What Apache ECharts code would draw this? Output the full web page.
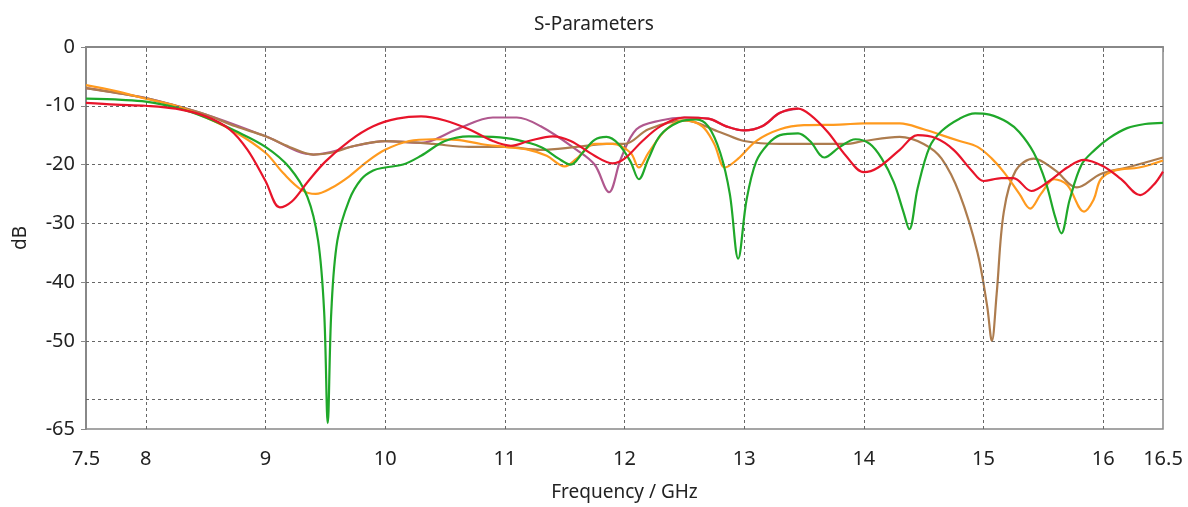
<!DOCTYPE html>
<html>
<head>
<meta charset="utf-8">
<script src="https://cdn.jsdelivr.net/npm/echarts@6/dist/echarts.min.js"></script>
<style>
html,body{margin:0;padding:0;background:#fff;}
#chart{width:1188px;height:507px;}
</style>
</head>
<body>
<div id="chart"></div>
<script>
// ---- data ----
const xTickLabels = [7.5, 8, 9, 10, 11, 12, 13, 14, 15, 16, 16.5];
const yTickLabels = [0, -10, -20, -30, -40, -50, -65];
const xGridValues = [8, 9, 10, 11, 12, 13, 14, 15, 16];
const yGridValues = [-10, -20, -30, -40, -50, -60];

const greenF  = [7.5,7.8,8.0,8.25,8.5,8.75,9.0,9.2,9.35,9.44,9.49,9.52,9.55,9.6,9.7,9.8,9.9,10.0,10.15,10.3,10.5,10.7,10.9,11.1,11.3,11.45,11.55,11.65,11.75,11.85,11.95,12.05,12.12,12.2,12.3,12.45,12.6,12.7,12.8,12.88,12.95,13.02,13.1,13.2,13.3,13.45,13.55,13.67,13.8,13.93,14.05,14.15,14.25,14.33,14.38,14.45,14.55,14.65,14.8,14.93,15.05,15.2,15.3,15.42,15.52,15.6,15.65,15.72,15.82,15.93,16.05,16.2,16.35,16.5];
const greenDB = [-8.8,-9.0,-9.3,-10.3,-12.0,-14.3,-17.0,-20.5,-25.5,-33,-45,-64,-45,-33,-26,-22.5,-21,-20.5,-20,-18.5,-16,-15.2,-15.3,-15.8,-17,-19,-20,-18,-15.8,-15.3,-16.5,-19.5,-22.5,-19,-15,-12.8,-12.3,-13.5,-18,-25,-36,-26,-19.5,-16.5,-15,-14.7,-16,-18.8,-17,-15.7,-16.5,-19,-23,-28,-31,-24,-17,-14.3,-12.2,-11.3,-11.5,-12.8,-14.5,-18,-23,-29,-31.7,-26,-20,-17.5,-15.5,-13.8,-13.1,-12.9];

const redF  = [7.5,7.75,8.0,8.25,8.5,8.7,8.85,9.0,9.12,9.22,9.35,9.5,9.7,9.9,10.1,10.3,10.5,10.7,10.9,11.05,11.2,11.4,11.55,11.75,11.9,12.0,12.15,12.3,12.5,12.7,12.85,13.0,13.15,13.3,13.45,13.55,13.7,13.85,14.0,14.12,14.3,14.45,14.6,14.75,14.9,15.0,15.15,15.25,15.4,15.55,15.7,15.84,16.0,16.15,16.31,16.42,16.5];
const redDB = [-9.5,-9.8,-10.0,-10.5,-11.8,-14,-17.5,-22.8,-27.3,-26.3,-23,-19.5,-16,-13.5,-12.2,-11.8,-12.5,-14,-16,-16.8,-16,-15.2,-16,-18.5,-19.8,-19,-16,-13.5,-12,-12.2,-13.5,-14.2,-13.5,-11.2,-10.5,-11.5,-14.5,-18.5,-21.3,-20.5,-17.5,-15,-15.5,-17.5,-21,-22.8,-22.3,-22.3,-24.5,-22.8,-20.5,-19.2,-20.3,-22.5,-25.2,-23.5,-21.2];

const orangeF  = [7.5,7.75,8.0,8.25,8.5,8.75,9.0,9.15,9.3,9.42,9.55,9.7,9.85,10.0,10.2,10.4,10.6,10.8,11.0,11.2,11.35,11.5,11.6,11.75,11.9,12.05,12.12,12.2,12.35,12.5,12.65,12.75,12.84,12.95,13.1,13.3,13.5,13.8,14.0,14.3,14.5,14.65,14.8,14.95,15.07,15.17,15.3,15.39,15.48,15.59,15.7,15.84,15.92,15.98,16.1,16.3,16.5];
const orangeDB = [-6.5,-7.5,-8.8,-10,-12,-14.5,-18,-21.5,-24.3,-25,-24,-22,-19.5,-17.5,-16,-15.7,-15.8,-16.5,-17,-17.5,-18.5,-20.3,-19,-16.5,-16.5,-18,-20.5,-18,-14,-12.5,-13.5,-16.5,-20.5,-19,-16,-14,-13.3,-13.2,-13,-13,-14,-15,-16,-17,-19,-21.3,-25,-27.5,-25,-22.5,-23.5,-28,-26,-22.5,-21,-20.5,-19.3];

const brownF  = [7.5,7.75,8.0,8.25,8.5,8.75,9.0,9.2,9.4,9.55,9.75,10.0,10.2,10.4,10.7,11.0,11.3,11.6,11.85,12.0,12.2,12.5,12.8,13.0,13.3,13.6,13.85,14.0,14.3,14.5,14.65,14.8,14.95,15.03,15.07,15.11,15.17,15.27,15.42,15.6,15.78,15.98,16.2,16.5];
const brownDB = [-7,-7.8,-8.7,-10,-11.5,-13.5,-15.2,-17,-18.3,-18,-16.8,-16,-16.2,-16.5,-17,-17,-17.5,-17,-16.5,-16.5,-14,-12.5,-14.5,-16,-16.5,-16.5,-16.5,-16,-15.3,-16.5,-19,-25,-35,-44,-50,-42,-28,-21,-19,-21,-23.9,-21.6,-20.5,-18.8];

const mauveF  = [7.5,8.0,8.5,9.0,9.4,9.75,10.0,10.3,10.6,10.9,11.1,11.3,11.6,11.75,11.87,11.97,12.1,12.3,12.5,12.7,12.85,13.0,13.15,13.3,13.45];
const mauveDB = [-7,-8.7,-11.5,-15.2,-18.3,-16.8,-16,-16.3,-14,-12,-12,-13.5,-17.5,-20,-24.7,-19,-14,-12.5,-12,-12.2,-13.5,-14.2,-13.5,-11.2,-10.5];

function pairs(f, d){ return f.map((x,i)=>[x,d[i]]); }

const chart = echarts.init(document.getElementById('chart'), null, {renderer:'canvas'});
const FONT = 'Noto Sans';
const gridStyle = {type:[3,3], color:'#666', width:1};

function mkSeries(name, f, d, color, z){
  return {
    name, type:'line', data:pairs(f,d), showSymbol:false, smooth:0.35,
    lineStyle:{color, width:2.2}, z, silent:true, animation:false
  };
}

const series = [
  {
    type:'line', data:[], silent:true, z:1, animation:false,
    markLine:{
      silent:true, symbol:['none','none'], animation:false,
      label:{show:false},
      lineStyle:gridStyle,
      data: yGridValues.map(v=>({yAxis:v})).concat(xGridValues.map(v=>({xAxis:v})))
    }
  },
  mkSeries('mauve', mauveF, mauveDB, '#b0588e', 2),
  mkSeries('brown', brownF, brownDB, '#ad7c4e', 3),
  mkSeries('orange', orangeF, orangeDB, '#ff9a1e', 4),
  mkSeries('green', greenF, greenDB, '#1fa82a', 5),
  mkSeries('red', redF, redDB, '#e8142a', 6)
];

chart.setOption({
  animation:false,
  backgroundColor:'#ffffff',
  title:{
    text:'S-Parameters', left:'center', top:10,
    textStyle:{fontFamily:FONT, fontSize:19, fontWeight:'normal', color:'#222'}
  },
  grid:{left:86, right:25, top:47, bottom:75, show:true, borderColor:'#888', borderWidth:1.5},
  xAxis:{
    type:'value', min:7.5, max:16.5, interval:0.5,
    name:'Frequency / GHz', nameLocation:'middle', nameGap:54,
    nameTextStyle:{fontFamily:FONT, fontSize:19, color:'#222'},
    axisLine:{show:true, lineStyle:{color:'#888', width:2}},
    axisTick:{show:true, customValues:xTickLabels, length:5, lineStyle:{color:'#888'}},
    axisLabel:{customValues:xTickLabels, fontFamily:FONT, fontSize:20, color:'#222', margin:20,
      formatter:v=>String(v)},
    splitLine:{show:false}
  },
  yAxis:{
    type:'value', min:-65, max:0, interval:5,
    name:'dB', nameLocation:'middle', nameGap:56, nameRotate:90,
    nameTextStyle:{fontFamily:FONT, fontSize:19, color:'#222'},
    axisLine:{show:true, lineStyle:{color:'#888', width:2}},
    axisTick:{show:true, customValues:yTickLabels, length:5, lineStyle:{color:'#888'}},
    axisLabel:{customValues:yTickLabels, fontFamily:FONT, fontSize:20, color:'#222', margin:11,
      formatter:v=>String(v)},
    splitLine:{show:false}
  },
  series
});
</script>
</body>
</html>
